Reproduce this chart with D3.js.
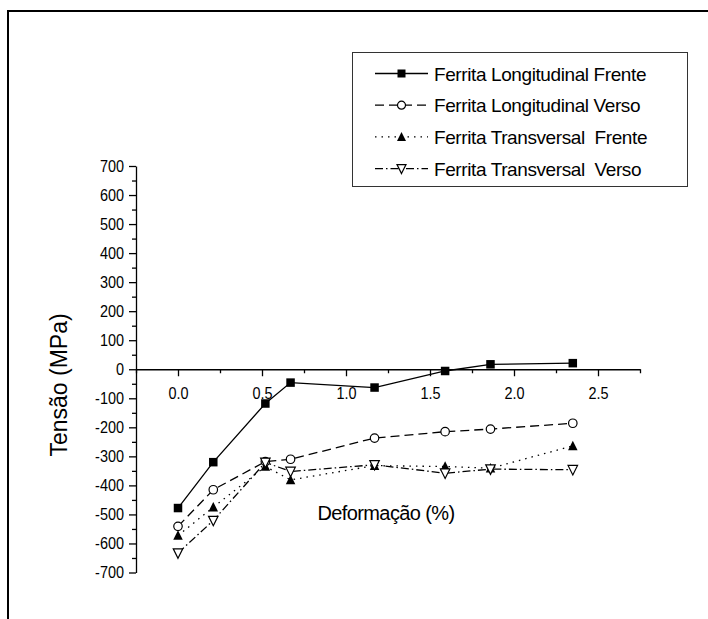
<!DOCTYPE html>
<html>
<head>
<meta charset="utf-8">
<script src="https://cdn.jsdelivr.net/npm/d3@7"></script>
<style>
  body { margin: 0; background: #fff; }
  svg { display: block; font-family: "Liberation Sans", Arial, sans-serif; }
</style>
</head>
<body>
<div id="chart"></div>
<script>
const width = 708;
const height = 619;

// strain (%)
const strain = [0.0, 0.21, 0.52, 0.67, 1.17, 1.59, 1.86, 2.35];
// stress (MPa) for each series
const longFrente = [-478, -320, -118, -46, -63, -6, 17, 21];
const longVerso = [-541, -415, -318, -310, -237, -215, -206, -186];
const transFrente = [-573, -475, -335, -381, -332, -335, -341, -264];
const transVerso = [-633, -521, -321, -352, -329, -358, -344, -346];

const seriesNames = [
    'Ferrita Longitudinal Frente',
    'Ferrita Longitudinal Verso',
    'Ferrita Transversal  Frente',
    'Ferrita Transversal  Verso'
];
const xTicks = [0.0, 0.5, 1.0, 1.5, 2.0, 2.5];
const yTicks = [700, 600, 500, 400, 300, 200, 100, 0, -100, -200, -300, -400, -500, -600, -700];

const series = [
    { name: seriesNames[0], values: longFrente, dash: null, marker: 'square' },
    { name: seriesNames[1], values: longVerso, dash: '9,5', marker: 'circle' },
    { name: seriesNames[2], values: transFrente, dash: '1.5,5', marker: 'triUp' },
    { name: seriesNames[3], values: transVerso, dash: '8,3,1.5,3', marker: 'triDown' }
];

const svg = d3.select('#chart')
    .append('svg')
    .attr('width', width)
    .attr('height', height);

// outer frame (top and left only)
svg.append('path')
    .attr('d', `M8,${height} V11 H${width}`)
    .attr('fill', 'none')
    .attr('stroke', '#000')
    .attr('stroke-width', 2);

const x = d3.scaleLinear().domain([-0.25, 2.75]).range([136, 640]);
const y = d3.scaleLinear().domain([-700, 700]).range([572.5, 166]);

// minor ticks first
const minorX = d3.range(-0.25, 2.76, 0.25).filter(v => Math.abs(v * 2 - Math.round(v * 2)) > 1e-6);
const minorY = d3.range(-650, 700, 100);

svg.append('g')
    .attr('transform', `translate(0,${y(0)})`)
    .call(d3.axisBottom(x).tickValues(minorX).tickSize(4).tickFormat(''))
    .call(g => g.select('.domain').remove())
    .call(g => g.selectAll('line').attr('stroke-width', 1.3));

svg.append('g')
    .attr('transform', `translate(${x(-0.25)},0)`)
    .call(d3.axisLeft(y).tickValues(minorY).tickSize(4).tickFormat(''))
    .call(g => g.select('.domain').remove())
    .call(g => g.selectAll('line').attr('stroke-width', 1.3));

// major axes
const squeeze = 0.85; // tick labels in the source are narrow
const xAxis = svg.append('g')
    .attr('transform', `translate(0,${y(0)})`)
    .call(d3.axisBottom(x).tickValues(xTicks).tickSize(7).tickSizeOuter(0).tickPadding(11).tickFormat(d3.format('.1f')));

const yAxis = svg.append('g')
    .attr('transform', `translate(${x(-0.25)},0)`)
    .call(d3.axisLeft(y).tickValues(yTicks).tickSize(7).tickSizeOuter(0).tickPadding(5).tickFormat(d => d));

[xAxis, yAxis].forEach(ax => {
    ax.select('.domain').attr('stroke-width', 1.3);
    ax.selectAll('line').attr('stroke-width', 1.3);
    ax.selectAll('text')
        .attr('font-size', 17)
        .attr('fill', '#000')
        .attr('transform', `scale(${squeeze},1)`);
});
yAxis.selectAll('text').attr('x', -12 / squeeze);

// axis titles
svg.append('text')
    .attr('x', 386)
    .attr('y', 520)
    .attr('text-anchor', 'middle')
    .attr('font-size', 20)
    .attr('letter-spacing', -0.6)
    .text('Deformação (%)');

svg.append('text')
    .attr('transform', 'translate(67,385) rotate(-90)')
    .attr('text-anchor', 'middle')
    .attr('font-size', 23)
    .text('Tensão (MPa)');

// markers
function drawMarker (sel, type, size) {
    const h = size / 2;
    if (type === 'square') {
        sel.append('rect')
            .attr('x', -h).attr('y', -h).attr('width', size).attr('height', size)
            .attr('fill', '#000');
    } else if (type === 'circle') {
        sel.append('circle').attr('r', h)
            .attr('fill', '#fff').attr('stroke', '#000').attr('stroke-width', 1.2);
    } else if (type === 'triUp') {
        sel.append('path')
            .attr('d', `M0,${-h - 1}L${h + 0.5},${h}L${-h - 0.5},${h}Z`)
            .attr('fill', '#000');
    } else {
        sel.append('path')
            .attr('d', `M0,${h + 1}L${h + 0.5},${-h}L${-h - 0.5},${-h}Z`)
            .attr('fill', '#fff').attr('stroke', '#000').attr('stroke-width', 1.2);
    }
}

const line = d3.line()
    .x((d, i) => x(strain[i]))
    .y(d => y(d));

const plot = svg.append('g');
series.forEach(s => {
    plot.append('path')
        .datum(s.values)
        .attr('d', line)
        .attr('fill', 'none')
        .attr('stroke', '#000')
        .attr('stroke-width', 1.3)
        .attr('stroke-dasharray', s.dash);
});
series.forEach(s => {
    s.values.forEach((v, i) => {
        const g = plot.append('g').attr('transform', `translate(${x(strain[i])},${y(v)})`);
        drawMarker(g, s.marker, 8.5);
    });
});

// legend
const legend = svg.append('g');
legend.append('rect')
    .attr('x', 352.5).attr('y', 52.5)
    .attr('width', 335).attr('height', 134)
    .attr('fill', '#fff')
    .attr('stroke', '#333')
    .attr('stroke-width', 1);

series.forEach((s, i) => {
    const cy = 73.5 + i * 31.7;
    const row = legend.append('g').attr('transform', `translate(0,${cy})`);
    row.append('line')
        .attr('x1', 375).attr('x2', 428)
        .attr('stroke', '#000').attr('stroke-width', 1.3)
        .attr('stroke-dasharray', s.dash);
    drawMarker(row.append('g').attr('transform', 'translate(401.5,0)'), s.marker, 8);
    row.append('text')
        .attr('x', 434)
        .attr('y', 7)
        .attr('font-size', 19)
        .attr('letter-spacing', -0.4)
        .style('white-space', 'pre')
        .text(s.name);
});
</script>
</body>
</html>
